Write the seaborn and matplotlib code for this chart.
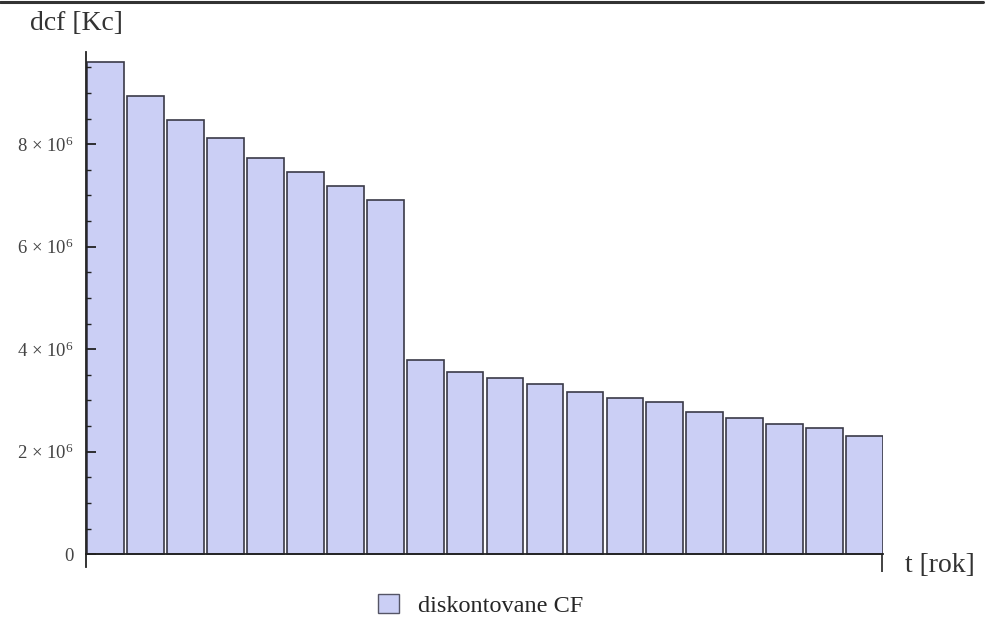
import matplotlib
matplotlib.use("Agg")
import matplotlib.pyplot as plt
import seaborn as sns
import pandas as pd
from matplotlib.patches import Patch
from matplotlib.lines import Line2D
from matplotlib.ticker import MultipleLocator, FixedLocator

# diskontovane cash flow po jednotlivych rocich
roky = list(range(1, 21))
dcf = [9.60e6, 8.94e6, 8.47e6, 8.12e6, 7.73e6, 7.45e6, 7.19e6, 6.91e6,
       3.79e6, 3.55e6, 3.43e6, 3.32e6, 3.16e6, 3.04e6, 2.97e6, 2.78e6,
       2.65e6, 2.54e6, 2.46e6, 2.30e6]
ytick_vals = [0, 2e6, 4e6, 6e6, 8e6]
ytick_labels = ['0', '2 × 10$^{6}$', '4 × 10$^{6}$', '6 × 10$^{6}$', '8 × 10$^{6}$']

df = pd.DataFrame({'rok': roky, 'dcf': dcf})

sns.set_style('white')
plt.rcParams['font.family'] = ['Liberation Serif', 'DejaVu Serif']
plt.rcParams['mathtext.fontset'] = 'custom'
plt.rcParams['mathtext.rm'] = 'Liberation Serif'
plt.rcParams['mathtext.it'] = 'Liberation Serif:italic'

barva = '#CBCFF5'
okraj = '#3a3a48'

fig = plt.figure(figsize=(9.93, 6.23), dpi=100)
ax = fig.add_axes([0.0866, 0.0899, 0.8026, 0.8266])

sns.barplot(data=df, x='rok', y='dcf', color=barva, saturation=1,
            width=0.92, edgecolor=okraj, linewidth=1.2, ax=ax)
ax.set_axisbelow(False)

ax.set_xlim(-0.49, 19.46)
ax.set_ylim(-0.25e6, 9.8e6)

for s in ['top', 'right']:
    ax.spines[s].set_visible(False)
ax.spines['bottom'].set_position(('data', 0))
ax.spines['left'].set_color('#222222')
ax.spines['bottom'].set_color('#222222')
ax.spines['left'].set_linewidth(1.3)
ax.spines['bottom'].set_linewidth(1.3)

ax.set_xticks([19.44])
ax.set_xticklabels([''])
ax.tick_params(axis='x', bottom=True, direction='out', length=13, width=1.2,
               color='#222222')

ax.yaxis.set_major_locator(FixedLocator(ytick_vals))
ax.set_yticklabels(ytick_labels)
ax.yaxis.set_minor_locator(MultipleLocator(0.5e6))
ax.tick_params(axis='y', which='major', left=True, direction='in', length=7,
               width=1.3, color='#222222', labelsize=13.5, labelcolor='#444444', pad=9)
ax.tick_params(axis='y', which='minor', left=True, direction='in', length=3.5,
               width=1.0, color='#222222')

ax.set_xlabel('')
ax.set_ylabel('')
fig.text(0.030, 0.962, 'dcf [Kc]', fontsize=20, color='#333333', va='center', ha='left')
fig.text(0.911, 0.093, 't [rok]', fontsize=20, color='#333333', va='center', ha='left')

fig.legend(handles=[Patch(facecolor=barva, edgecolor='#555566', linewidth=1.0,
                          label='diskontovane CF')],
           loc='center', bbox_to_anchor=(0.484, 0.028), frameon=False,
           fontsize=17.5, handlelength=0.85, handleheight=0.85, handletextpad=0.8)

fig.add_artist(Line2D([0, 0.99], [0.996, 0.996], transform=fig.transFigure,
                      color='#333333', linewidth=2.2))

fig.savefig('out.png', dpi=100)
